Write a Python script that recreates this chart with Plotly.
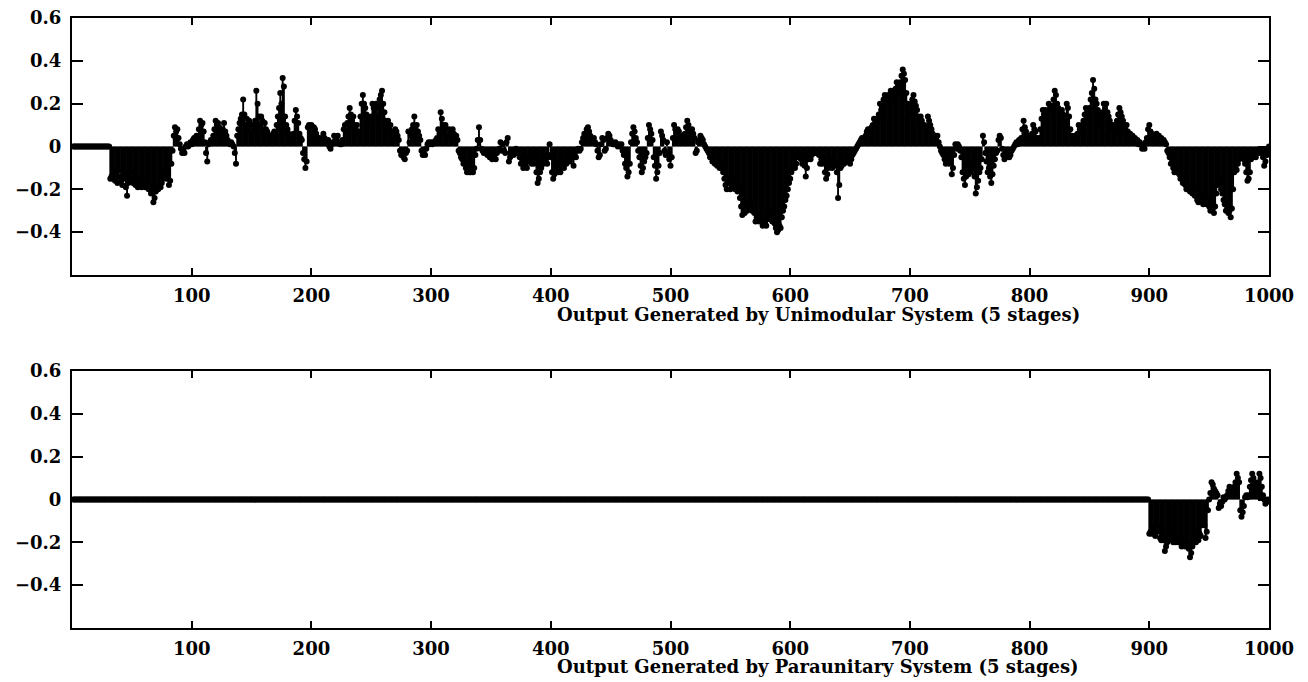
import plotly.graph_objects as go

# ---- sample index (1..1000) ----
n = list(range(1, 1001))

# ---- output of the unimodular system (5 stages) ----
unimodular = [0.0] * 31 + [
    -0.15,
    -0.14, -0.15, -0.13, -0.16, -0.12, -0.17, -0.14, -0.11, -0.16, -0.18,
    -0.15, -0.13, -0.19, -0.23, -0.17, -0.14, -0.16, -0.12, -0.17, -0.15,
    -0.18, -0.16, -0.19, -0.17, -0.15, -0.19, -0.18, -0.16, -0.19, -0.17,
    -0.18, -0.20, -0.19, -0.22, -0.20, -0.26, -0.24, -0.21, -0.19, -0.20,
    -0.18, -0.19, -0.17, -0.15, -0.14, -0.12, -0.15, -0.13, -0.18, -0.16,
    -0.08, -0.02, 0.05, 0.09, 0.07, 0.08, 0.04, 0.01, -0.01, -0.03,
    -0.02, -0.03, 0.00, 0.01, 0.00, 0.01, 0.02, 0.01, 0.03, 0.04,
    0.02, 0.05, 0.04, 0.08, 0.12, 0.10, 0.11, 0.07, 0.02, -0.03,
    -0.07, 0.01, 0.02, 0.03, 0.02, 0.05, 0.08, 0.12, 0.10, 0.11,
    0.09, 0.06, 0.04, 0.08, 0.11, 0.07, 0.05, 0.03, 0.02, 0.01,
    0.02, 0.01, 0.00, -0.03, -0.08, 0.05, 0.08, 0.11, 0.13, 0.15,
    0.22, 0.15, 0.10, 0.13, 0.08, 0.12, 0.10, 0.06, 0.10, 0.08,
    0.12, 0.26, 0.20, 0.14, 0.10, 0.14, 0.12, 0.08, 0.11, 0.08,
    0.07, 0.05, 0.04, 0.05, 0.03, 0.06, 0.07, 0.04, 0.10, 0.14,
    0.18, 0.25, 0.20, 0.32, 0.28, 0.14, 0.10, 0.08, 0.06, 0.05,
    0.04, 0.03, 0.06, 0.12, 0.17, 0.14, 0.11, 0.06, 0.04, 0.03,
    -0.03, -0.06, -0.10, -0.07, 0.09, 0.10, 0.09, 0.10, 0.08, 0.09,
    0.08, 0.06, 0.04, 0.03, 0.04, 0.02, 0.03, 0.06, 0.04, 0.03,
    0.02, 0.03, 0.00, -0.01, 0.01, 0.02, 0.05, 0.03, 0.04, 0.05,
    0.02, 0.01, 0.01, 0.03, 0.08, 0.10, 0.07, 0.11, 0.14, 0.18,
    0.15, 0.12, 0.14, 0.10, 0.08, 0.10, 0.06, 0.07, 0.14, 0.20,
    0.24, 0.20, 0.18, 0.15, 0.14, 0.12, 0.10, 0.14, 0.20, 0.18,
    0.16, 0.20, 0.14, 0.18, 0.22, 0.24, 0.26, 0.20, 0.16, 0.12,
    0.10, 0.12, 0.08, 0.10, 0.07, 0.05, 0.06, 0.08, 0.07, 0.05,
    0.03, -0.02, -0.04, -0.03, -0.05, -0.06, -0.03, -0.02, 0.07, 0.02,
    0.05, 0.08, 0.10, 0.14, 0.08, 0.10, 0.07, 0.05, 0.03, -0.02,
    -0.04, -0.03, -0.04, -0.01, 0.01, 0.02, 0.01, 0.02, 0.01, 0.02,
    0.02, 0.03, 0.04, 0.08, 0.06, 0.16, 0.13, 0.10, 0.08, 0.10,
    0.08, 0.05, 0.08, 0.07, 0.05, 0.08, 0.06, 0.04, 0.05, 0.03,
    -0.02, -0.03, -0.05, -0.06, -0.08, -0.07, -0.10, -0.12, -0.11, -0.12,
    -0.12, -0.11, -0.12, -0.10, -0.04, -0.01, 0.03, 0.09, 0.03, -0.01,
    -0.02, -0.03, -0.02, -0.03, -0.04, -0.03, -0.05, -0.04, -0.06, -0.05,
    -0.04, -0.06, -0.03, -0.02, -0.01, 0.02, -0.02, 0.01, -0.02, -0.03,
    0.02, 0.04, -0.07, -0.05, -0.02, -0.03, -0.04, -0.02, -0.01, -0.03,
    -0.02, -0.05, -0.08, -0.06, -0.10, -0.08, -0.09, -0.10, -0.07, -0.06,
    -0.05, -0.08, -0.07, -0.08, -0.06, -0.12, -0.17, -0.15, -0.12, -0.10,
    -0.06, -0.08, -0.07, -0.06, -0.08, -0.04, 0.01, -0.05, -0.12, -0.15,
    -0.13, -0.10, -0.08, -0.12, -0.10, -0.12, -0.09, -0.08, -0.10, -0.07,
    -0.08, -0.07, -0.05, -0.07, -0.03, -0.05, -0.09, -0.04, -0.05, -0.02,
    -0.01, -0.02, -0.01, 0.02, 0.04, 0.06, 0.05, 0.08, 0.09, 0.07,
    0.05, 0.04, 0.03, 0.04, 0.02, 0.01, -0.02, -0.05, -0.04, 0.01,
    0.04, 0.03, -0.02, -0.01, 0.04, 0.06, 0.05, 0.03, 0.02, 0.01,
    0.01, 0.02, 0.01, 0.00, 0.01, 0.00, 0.01, -0.02, -0.04, -0.08,
    -0.10, -0.14, -0.12, -0.08, 0.02, 0.06, 0.09, 0.07, 0.04, 0.02,
    -0.02, -0.05, -0.09, -0.12, -0.10, -0.07, -0.05, -0.03, 0.04, 0.10,
    0.08, 0.06, 0.03, -0.05, -0.09, -0.15, -0.12, -0.09, -0.03, 0.07,
    0.05, 0.03, -0.02, -0.04, 0.02, -0.03, -0.06, -0.09, -0.05, 0.04,
    0.10, 0.08, 0.06, 0.08, 0.07, 0.05, 0.04, 0.05, 0.03, 0.06,
    0.09, 0.12, 0.10, 0.08, 0.07, 0.08, 0.06, 0.04, -0.03, -0.02,
    0.02, 0.03, 0.05, 0.04, 0.03, 0.01, 0.00, -0.01, -0.02, -0.03,
    -0.05, -0.04, -0.07, -0.06, -0.08, -0.07, -0.09, -0.08, -0.10, -0.09,
    -0.10, -0.12, -0.15, -0.18, -0.20, -0.17, -0.15, -0.20, -0.18, -0.16,
    -0.19, -0.20, -0.18, -0.21, -0.20, -0.24, -0.28, -0.32, -0.30, -0.31,
    -0.28, -0.30, -0.27, -0.29, -0.26, -0.30, -0.28, -0.31, -0.35, -0.33,
    -0.32, -0.35, -0.34, -0.33, -0.37, -0.35, -0.36, -0.37, -0.34, -0.33,
    -0.34, -0.32, -0.35, -0.34, -0.36, -0.38, -0.40, -0.39, -0.37, -0.38,
    -0.33, -0.30, -0.28, -0.25, -0.23, -0.20, -0.17, -0.15, -0.12, -0.10,
    -0.09, -0.10, -0.08, -0.05, -0.03, -0.04, -0.06, -0.08, -0.07, -0.09,
    -0.14, -0.10, -0.06, -0.05, -0.06, -0.04, -0.03, -0.02, -0.03, -0.02,
    -0.03, -0.04, -0.08, -0.06, -0.08, -0.07, -0.12, -0.15, -0.13, -0.10,
    -0.06, -0.08, -0.10, -0.07, -0.06, -0.09, -0.12, -0.24, -0.18, -0.10,
    -0.09, -0.07, -0.08, -0.06, -0.07, -0.05, -0.06, -0.08, -0.06, -0.04,
    -0.03, -0.02, -0.01, 0.00, 0.01, 0.02, 0.03, 0.04, 0.03, 0.04,
    0.05, 0.07, 0.08, 0.06, 0.08, 0.09, 0.10, 0.13, 0.12, 0.13,
    0.11, 0.15, 0.20, 0.17, 0.19, 0.22, 0.24, 0.21, 0.23, 0.24,
    0.22, 0.26, 0.24, 0.25, 0.26, 0.27, 0.30, 0.28, 0.27, 0.30,
    0.33, 0.36, 0.34, 0.31, 0.25, 0.20, 0.18, 0.16, 0.20, 0.22,
    0.24, 0.21, 0.19, 0.17, 0.14, 0.13, 0.14, 0.12, 0.10, 0.10,
    0.09, 0.08, 0.14, 0.12, 0.10, 0.08, 0.06, 0.05, 0.04, 0.03,
    0.05, 0.02, 0.00, -0.02, -0.03, -0.04, -0.06, -0.08, -0.05, -0.07,
    -0.08, -0.06, -0.13, -0.10, -0.04, 0.01, -0.01, 0.01, 0.00, -0.02,
    -0.05, -0.12, -0.15, -0.18, -0.14, -0.10, -0.13, -0.11, -0.12, -0.08,
    -0.10, -0.14, -0.22, -0.19, -0.16, -0.12, -0.10, -0.06, 0.05, 0.02,
    -0.03, -0.07, -0.12, -0.10, -0.14, -0.17, -0.13, -0.09, -0.06, -0.03,
    -0.02, 0.03, 0.05, 0.04, -0.01, -0.04, -0.06, -0.05, -0.03, -0.02,
    -0.05, -0.04, -0.02, -0.01, 0.00, 0.01, 0.02, 0.01, 0.03, 0.02,
    0.04, 0.08, 0.12, 0.09, 0.07, 0.05, 0.04, 0.05, 0.04, 0.06,
    0.10, 0.08, 0.07, 0.04, 0.03, 0.04, 0.08, 0.13, 0.17, 0.15,
    0.17, 0.14, 0.16, 0.20, 0.18, 0.17, 0.19, 0.22, 0.26, 0.24,
    0.20, 0.18, 0.16, 0.15, 0.17, 0.15, 0.12, 0.14, 0.20, 0.18,
    0.14, 0.08, 0.05, 0.04, 0.03, 0.05, 0.04, 0.06, 0.10, 0.08,
    0.09, 0.10, 0.12, 0.15, 0.18, 0.16, 0.14, 0.18, 0.22, 0.25,
    0.31, 0.27, 0.22, 0.20, 0.17, 0.15, 0.12, 0.14, 0.16, 0.20,
    0.18, 0.20, 0.16, 0.14, 0.12, 0.10, 0.08, 0.10, 0.07, 0.09,
    0.12, 0.15, 0.18, 0.16, 0.14, 0.12, 0.10, 0.08, 0.10, 0.07,
    0.05, 0.06, 0.04, 0.05, 0.03, 0.04, 0.02, 0.03, 0.01, 0.02,
    0.01, -0.01, 0.00, -0.01, 0.02, 0.04, 0.08, 0.10, 0.07, 0.06,
    0.05, 0.04, 0.05, 0.06, 0.04, 0.05, 0.03, 0.04, 0.02, 0.03,
    0.02, 0.01, -0.02, -0.03, -0.05, -0.08, -0.06, -0.10, -0.12, -0.11,
    -0.12, -0.10, -0.13, -0.15, -0.14, -0.17, -0.15, -0.18, -0.20, -0.19,
    -0.20, -0.21, -0.19, -0.22, -0.20, -0.23, -0.22, -0.25, -0.26, -0.24,
    -0.25, -0.24, -0.27, -0.26, -0.24, -0.27, -0.25, -0.28, -0.30, -0.27,
    -0.29, -0.31, -0.28, -0.22, -0.18, -0.15, -0.17, -0.20, -0.22, -0.25,
    -0.27, -0.30, -0.28, -0.31, -0.30, -0.33, -0.29, -0.20, -0.12, -0.10,
    -0.11, -0.08, -0.06, -0.05, -0.04, -0.05, -0.06, -0.08, -0.12, -0.16,
    -0.15, -0.12, -0.06, -0.05, -0.04, -0.03, -0.05, -0.03, -0.02, -0.03,
    -0.02, -0.03, -0.05, -0.09, -0.07, -0.04, -0.02, 0.00,
]

# ---- output of the paraunitary system (5 stages) ----
paraunitary = [0.0] * 899 + [
    -0.16, -0.15, -0.16, -0.14, -0.16, -0.17, -0.12, -0.15, -0.13, -0.18,
    -0.19, -0.17, -0.19, -0.24, -0.22, -0.20, -0.16, -0.19, -0.17, -0.15,
    -0.20, -0.18, -0.20, -0.19, -0.20, -0.18, -0.20, -0.22, -0.20, -0.21,
    -0.22, -0.20, -0.21, -0.23, -0.27, -0.25, -0.22, -0.20, -0.18, -0.20,
    -0.17, -0.19, -0.16, -0.17, -0.12, -0.10, -0.12, -0.18, -0.15, -0.05,
    0.00, 0.03, 0.08, 0.07, 0.05, 0.04, 0.03, 0.02, -0.04, -0.02,
    -0.03, -0.01, 0.01, 0.00, 0.01, 0.02, 0.04, 0.06, 0.04, 0.05,
    0.04, 0.06, 0.08, 0.12, 0.10, 0.08, -0.05, -0.08, -0.06, -0.03,
    0.01, 0.02, 0.01, 0.02, 0.06, 0.09, 0.12, 0.10, 0.08, 0.06,
    0.05, 0.08, 0.12, 0.10, 0.06, 0.02, 0.00, -0.02, 0.00, -0.01,
    0.00,
]

x_ticks = [100, 200, 300, 400, 500, 600, 700, 800, 900, 1000]
y_ticks = [0.6, 0.4, 0.2, 0.0, -0.2, -0.4]
y_tick_text = ["0.6", "0.4", "0.2", "0", "\u22120.2", "\u22120.4"]
titles = [
    "Output Generated by Unimodular System (5 stages)",
    "Output Generated by Paraunitary System (5 stages)",
]

W, H = 1308, 682
FONT = "DejaVu Serif"
TICK_FONT = dict(family=FONT, size=18, color="black", weight="bold")


def stem_traces(xs, ys, xa, ya):
    sx, sy = [], []
    for xv, yv in zip(xs, ys):
        sx += [xv, xv, None]
        sy += [0.0, yv, None]
    stems = go.Scatter(x=sx, y=sy, mode="lines", xaxis=xa, yaxis=ya,
                       line=dict(color="black", width=1.9),
                       hoverinfo="skip", showlegend=False)
    heads = go.Scatter(x=xs, y=ys, mode="markers", xaxis=xa, yaxis=ya,
                       marker=dict(color="black", size=6, line=dict(width=0)),
                       showlegend=False)
    return [stems, heads]


fig = go.Figure()
for tr in stem_traces(n, unimodular, "x", "y"):
    fig.add_trace(tr)
for tr in stem_traces(n, paraunitary, "x2", "y2"):
    fig.add_trace(tr)

x_dom = [72 / W, 1269 / W]
top_dom = [1 - 275 / H, 1 - 18 / H]
bot_dom = [1 - 628 / H, 1 - 371 / H]

xaxis_common = dict(
    range=[0, 1000], domain=x_dom, tickmode="array", tickvals=x_ticks,
    ticks="inside", ticklen=7, tickwidth=1.5, tickcolor="black",
    showline=True, linewidth=2, linecolor="black", mirror="ticks",
    showgrid=False, zeroline=False, ticklabelstandoff=3, automargin=False,
    tickfont=TICK_FONT,
)
yaxis_common = dict(
    range=[-0.6, 0.6], tickmode="array", tickvals=y_ticks, ticktext=y_tick_text,
    ticks="inside", ticklen=11, tickwidth=1.5, tickcolor="black",
    showline=True, linewidth=2, linecolor="black", mirror="ticks",
    showgrid=False, zeroline=False, ticklabelstandoff=5, automargin=False,
    tickfont=TICK_FONT,
)

fig.update_layout(
    width=W, height=H,
    margin=dict(l=0, r=0, t=0, b=0),
    paper_bgcolor="white", plot_bgcolor="white",
    xaxis=dict(**xaxis_common, anchor="y"),
    yaxis=dict(**yaxis_common, domain=top_dom, anchor="x"),
    xaxis2=dict(**xaxis_common, anchor="y2"),
    yaxis2=dict(**yaxis_common, domain=bot_dom, anchor="x2"),
    annotations=[
        dict(text=titles[0], xref="paper", yref="paper", x=818 / W, y=1 - 314 / H,
             xanchor="center", yanchor="middle", showarrow=False,
             font=TICK_FONT),
        dict(text=titles[1], xref="paper", yref="paper", x=818 / W, y=1 - 666 / H,
             xanchor="center", yanchor="middle", showarrow=False,
             font=TICK_FONT),
    ],
)

fig.write_html("out.html")
